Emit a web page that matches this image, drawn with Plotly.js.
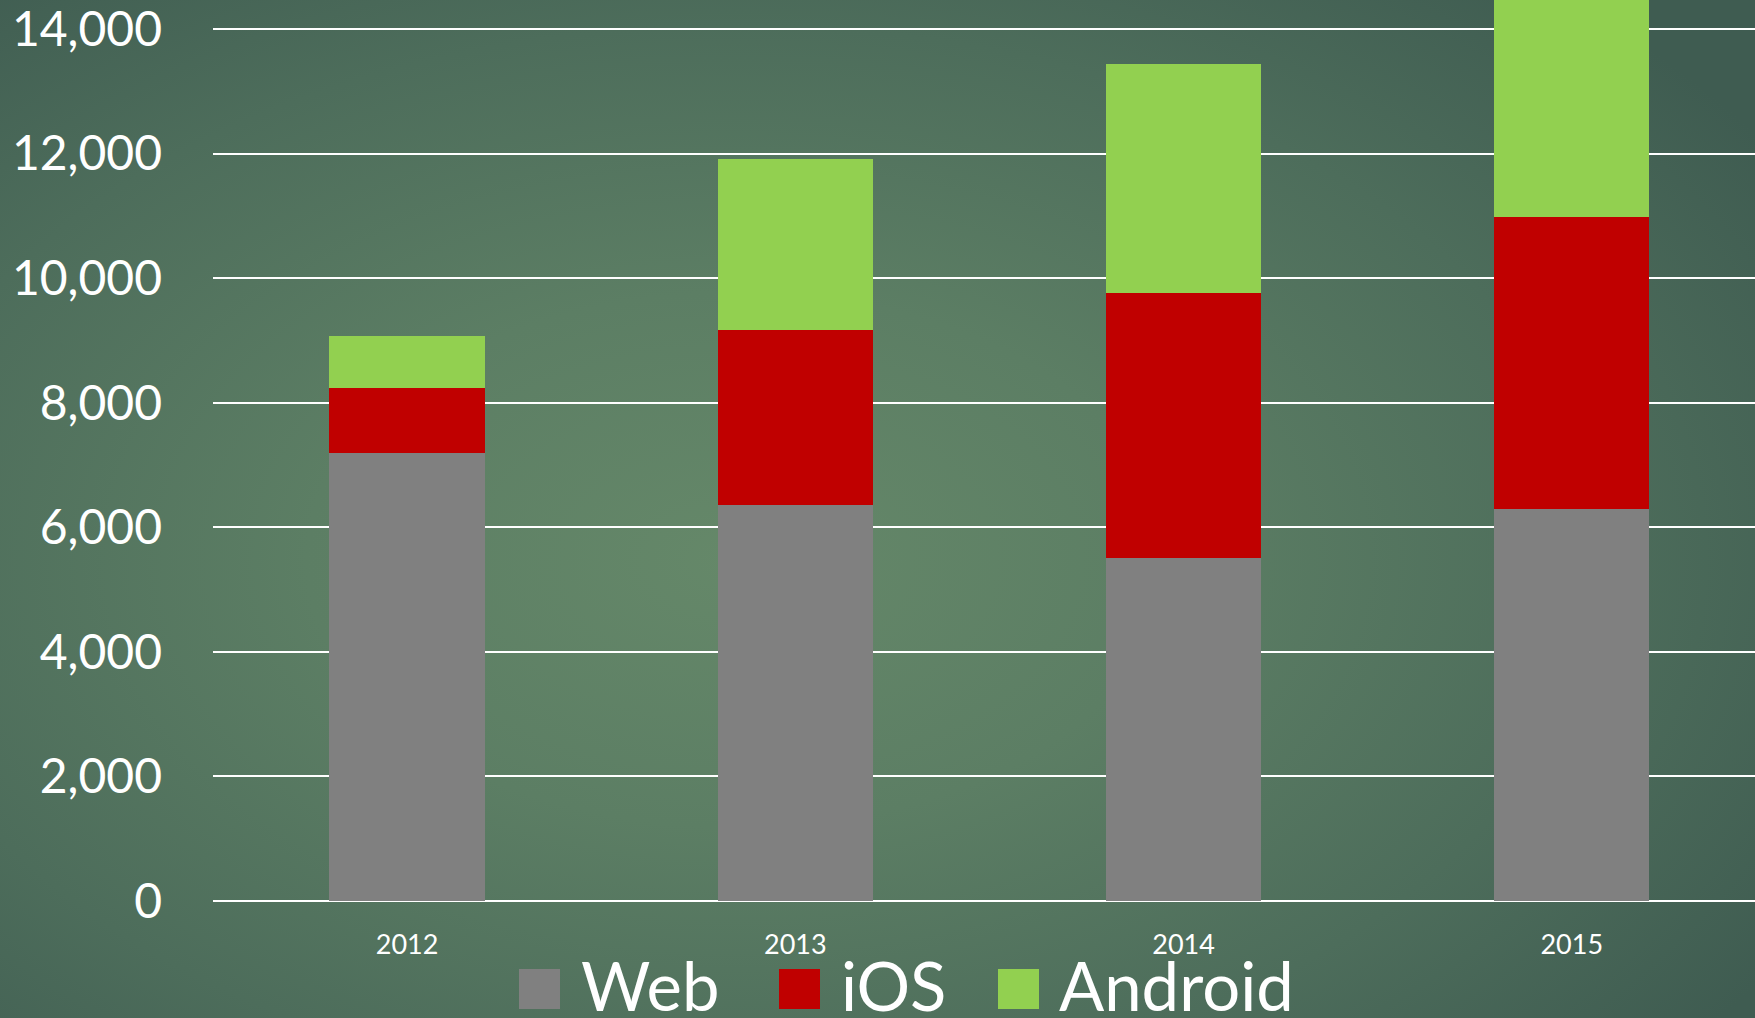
<!DOCTYPE html>
<html>
<head>
<meta charset="utf-8">
<script src="https://cdn.plot.ly/plotly-3.0.1.min.js"></script>
<style>
  html, body { margin: 0; padding: 0; width: 1755px; height: 1018px; overflow: hidden; }
  body { background: radial-gradient(ellipse 70% 75% at 42% 55%, #658869 0%, #5c7e64 35%, #4d6d5b 70%, #3f5c51 100%); }
  #chart { width: 1755px; height: 1018px; }
</style>
</head>
<body>
<div id="chart"></div>
<script>
const years = ["2012", "2013", "2014", "2015"];
const seriesNames = ["Web", "iOS", "Android"];
const web = [7190, 6365, 5500, 6295];
const ios = [1040, 2800, 4265, 4680];
const android = [850, 2750, 3675, 3800];
const colors = ["#808080", "#C00000", "#92D050"];
const values = [web, ios, android];

const W = 1755, H = 1018;
const mL = 213, mR = 0, mT = 0, mB = 117;
const pw = W - mL - mR, ph = H - mT - mB;
const px2x = p => (p - mL) / pw;
const px2y = p => (H - mB - p) / ph;

const traces = seriesNames.map((n, i) => ({
  type: 'bar',
  name: n,
  x: years,
  y: values[i],
  marker: { color: colors[i], line: { width: 0 } },
  width: 0.4,
  showlegend: false,
  hoverinfo: 'x+y+name'
}));

// custom legend (large swatches)
const legendSwatchX = [519, 779, 998];
const legendTextX = [579, 839, 1057];
const shapes = [];
const annotations = [];
seriesNames.forEach((n, i) => {
  shapes.push({
    type: 'rect', xref: 'paper', yref: 'paper',
    x0: px2x(legendSwatchX[i]), x1: px2x(legendSwatchX[i] + 41),
    y0: px2y(969), y1: px2y(1009),
    fillcolor: colors[i], line: { width: 0 }
  });
  annotations.push({
    xref: 'paper', yref: 'paper',
    x: px2x(legendTextX[i]), y: px2y(985),
    xanchor: 'left', yanchor: 'middle',
    text: n, showarrow: false,
    font: { family: 'Lato, "Open Sans", sans-serif', size: 67, color: '#ffffff' }
  });
});

const layout = {
  width: W, height: H,
  margin: { l: mL, r: mR, t: mT, b: mB, pad: 0 },
  paper_bgcolor: 'rgba(0,0,0,0)',
  plot_bgcolor: 'rgba(0,0,0,0)',
  barmode: 'stack',
  showlegend: false,
  font: { family: 'Lato, "Open Sans", sans-serif', color: '#ffffff' },
  xaxis: {
    type: 'category',
    range: [-0.5, 3.472],
    showgrid: false,
    zeroline: false,
    showline: false,
    ticks: '',
    tickfont: { size: 27, color: '#ffffff' },
    ticklabelstandoff: 25,
    ticklabeloverflow: 'allow',
    fixedrange: true
  },
  yaxis: {
    range: [0, 14467],
    dtick: 2000,
    tick0: 0,
    tickformat: ',d',
    showgrid: true,
    gridcolor: '#ffffff',
    gridwidth: 2,
    zeroline: true,
    zerolinecolor: '#ffffff',
    zerolinewidth: 2,
    showline: false,
    ticks: '',
    tickfont: { size: 48, color: '#ffffff' },
    ticklabelstandoff: 50,
    ticklabeloverflow: 'allow',
    fixedrange: true
  },
  shapes: shapes,
  annotations: annotations
};

Plotly.newPlot('chart', traces, layout, { displayModeBar: false, staticPlot: true });
</script>
</body>
</html>
